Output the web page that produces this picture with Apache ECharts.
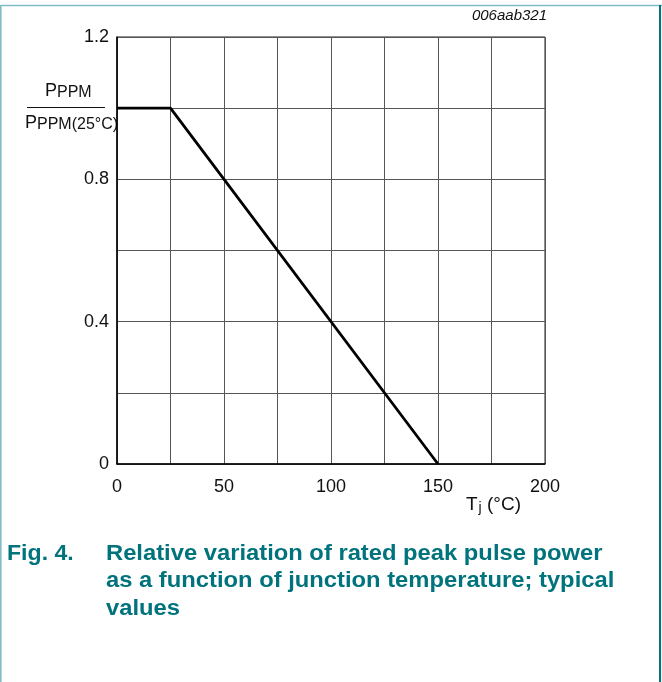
<!DOCTYPE html>
<html>
<head>
<meta charset="utf-8">
<script src="https://cdn.jsdelivr.net/npm/echarts@6/dist/echarts.min.js"></script>
<style>
html,body{margin:0;padding:0;background:#fff;}
#chart{width:662px;height:682px;}
</style>
</head>
<body>
<div id="chart"></div>
<script>
// curve points (Tj in °C, relative power)
var tempC = [0, 25, 150];
var relPower = [1.0, 1.0, 0.0];
var xTicks = [0, 50, 100, 150, 200];
var yTicks = [0, 0.4, 0.8, 1.2];

var chart = echarts.init(document.getElementById('chart'));
var teal = '#00737c';
var font = 'Liberation Sans, Arial';

var option = {
	animation: false,
	grid: {
		left: 117, top: 37, width: 428, height: 427,
		show: true, borderColor: '#222', borderWidth: 1
	},
	xAxis: {
		type: 'value', min: 0, max: 200, interval: 25,
		axisLine: {show: true, lineStyle: {color: '#000', width: 1.5}},
		axisTick: {show: false},
		splitLine: {show: true, lineStyle: {color: '#555', width: 1}},
		axisLabel: {
			color: '#111', fontSize: 18, fontFamily: font, margin: 14,
			formatter: function(v){ return xTicks.indexOf(v) >= 0 ? String(v) : ''; }
		}
	},
	yAxis: {
		type: 'value', min: 0, max: 1.2, interval: 0.2,
		axisLine: {show: true, lineStyle: {color: '#000', width: 1.5}},
		axisTick: {show: false},
		splitLine: {show: true, lineStyle: {color: '#555', width: 1}},
		axisLabel: {
			color: '#111', fontSize: 18, fontFamily: font, margin: 8,
			formatter: function(v){
				for (var i = 0; i < yTicks.length; i++) {
					if (Math.abs(yTicks[i] - v) < 1e-6) return String(yTicks[i]);
				}
				return '';
			}
		}
	},
	series: [{
		type: 'line',
		data: tempC.map(function(t, i){ return [t, relPower[i]]; }),
		symbol: 'none',
		lineStyle: {color: '#000', width: 2.8}
	}],
	graphic: [
		// frame
		{type: 'line', shape: {x1: 0.5, y1: 5.5, x2: 662, y2: 5.5}, style: {stroke: '#7fbcc4', lineWidth: 1.5}},
		{type: 'line', shape: {x1: 0.8, y1: 5, x2: 0.8, y2: 682}, style: {stroke: '#7fbcc4', lineWidth: 1.6}},
		{type: 'line', shape: {x1: 660, y1: 5, x2: 660, y2: 682}, style: {stroke: teal, lineWidth: 2}},
		// code
		{type: 'text', right: 115, top: 8, style: {
			text: '006aab321', fill: '#111', fontSize: 15, fontStyle: 'italic', fontFamily: font
		}},
		// y axis name as a fraction
		{type: 'text', left: 45, top: 82, style: {
			text: '{p|P}{s|PPM}',
			rich: {
				p: {fontSize: 18, fontFamily: font, fill: '#111'},
				s: {fontSize: 16, fontFamily: font, fill: '#111', padding: [3, 0, 0, 0]}
			}
		}},
		{type: 'line', shape: {x1: 27, y1: 107.5, x2: 105, y2: 107.5}, style: {stroke: '#111', lineWidth: 1}},
		{type: 'text', left: 25, top: 114, style: {
			text: '{p|P}{s|PPM(25°C)}',
			rich: {
				p: {fontSize: 18, fontFamily: font, fill: '#111'},
				s: {fontSize: 16, fontFamily: font, fill: '#111', padding: [3, 0, 0, 0]}
			}
		}},
		// x axis name
		{type: 'text', left: 466, top: 495, style: {
			text: '{p|T}{s|j}{p| (°C)}',
			rich: {
				p: {fontSize: 19, fontFamily: font, fill: '#111'},
				s: {fontSize: 14, fontFamily: font, fill: '#111', padding: [8, 0, 0, 1]}
			}
		}},
		// caption
		{type: 'text', left: 7, top: 540, scaleX: 1.05, style: {
			text: 'Fig. 4.', fill: teal, fontSize: 22, lineHeight: 27.5, fontWeight: 'bold', fontFamily: font
		}},
		{type: 'text', left: 106, top: 540, scaleX: 1.08, style: {
			text: 'Relative variation of rated peak pulse power\nas a function of junction temperature; typical\nvalues',
			fill: teal, fontSize: 22, lineHeight: 27.5, fontWeight: 'bold', fontFamily: font
		}}
	]
};
chart.setOption(option);
</script>
</body>
</html>
